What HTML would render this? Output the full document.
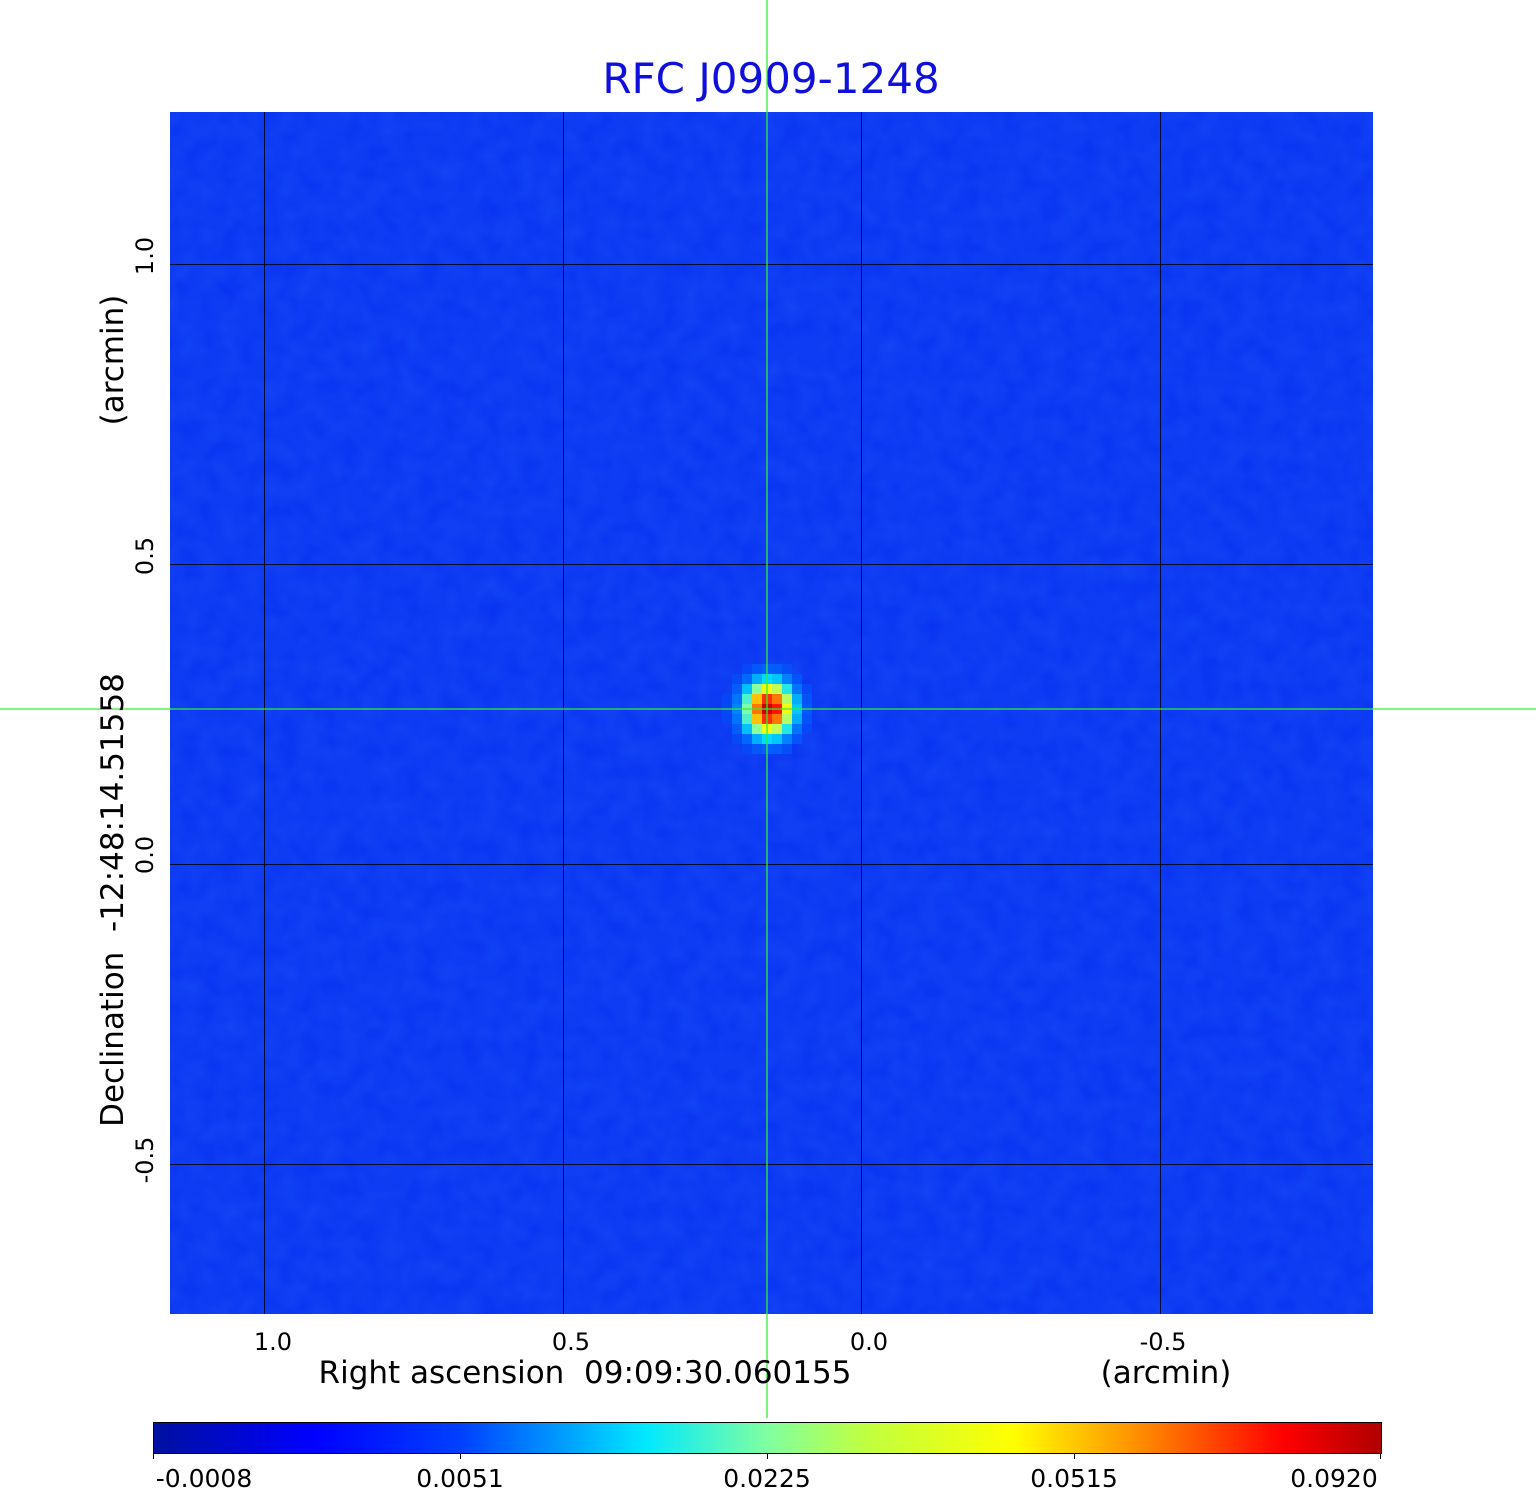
<!DOCTYPE html>
<html><head><meta charset="utf-8"><style>
html,body{margin:0;padding:0;background:#fff;width:1536px;height:1511px;overflow:hidden;font-family:"DejaVu Sans","Liberation Sans",sans-serif}
</style></head><body>
<svg id="s" width="1536" height="1511" xmlns="http://www.w3.org/2000/svg" font-family="DejaVu Sans, Liberation Sans, sans-serif">
<defs>
<linearGradient id="jet" x1="0" x2="1" y1="0" y2="0">
<stop offset="0" stop-color="#0010a0"/>
<stop offset="0.13" stop-color="#0000ff"/>
<stop offset="0.25" stop-color="#0040ff"/>
<stop offset="0.4" stop-color="#00e8ff"/>
<stop offset="0.5" stop-color="#80ffa0"/>
<stop offset="0.58" stop-color="#c0ff40"/>
<stop offset="0.7" stop-color="#ffff00"/>
<stop offset="0.8" stop-color="#ff9000"/>
<stop offset="0.92" stop-color="#ff0000"/>
<stop offset="1" stop-color="#b00000"/>
</linearGradient>
<filter id="n" x="0" y="0" width="100%" height="100%">
<feTurbulence type="fractalNoise" baseFrequency="0.05" numOctaves="2" seed="3"/>
<feColorMatrix type="matrix" values="0 0 0 0 0.05  0 0 0 0 0.3  0 0 0 0 1  0 0 0 0.5 -0.05"/>
</filter>
</defs>
<text x="771" y="93" font-size="42" fill="#1010dd" text-anchor="middle">RFC J0909-1248</text>
<rect x="170" y="112" width="1203" height="1202" fill="#0a34f2"/>
<rect x="170" y="112" width="1203" height="1202" filter="url(#n)" opacity="0.4"/>
<g id="blob"></g>
<g stroke="#000" stroke-width="1" opacity="0.8">
<line x1="264.5" y1="112" x2="264.5" y2="1314"/><line x1="563.5" y1="112" x2="563.5" y2="1314"/>
<line x1="861.5" y1="112" x2="861.5" y2="1314"/><line x1="1160.5" y1="112" x2="1160.5" y2="1314"/>
<line x1="170" y1="264.5" x2="1373" y2="264.5"/><line x1="170" y1="564.5" x2="1373" y2="564.5"/>
<line x1="170" y1="864.5" x2="1373" y2="864.5"/><line x1="170" y1="1164.5" x2="1373" y2="1164.5"/>
</g>
<g stroke="#33ee33" stroke-width="1.3">
<line x1="767" y1="0" x2="767" y2="1418"/><line x1="0" y1="709" x2="1536" y2="709"/>
</g>
<g font-size="24" fill="#000" text-anchor="middle">
<text x="273" y="1350">1.0</text><text x="571" y="1350">0.5</text>
<text x="869" y="1350">0.0</text><text x="1163" y="1350">-0.5</text>
<text x="585" y="1383" font-size="31">Right ascension &#160;09:09:30.060155</text>
<text x="1166" y="1383" font-size="31">(arcmin)</text>
<text transform="translate(153,256) rotate(-90)">1.0</text>
<text transform="translate(153,556) rotate(-90)">0.5</text>
<text transform="translate(153,855) rotate(-90)">0.0</text>
<text transform="translate(153,1160) rotate(-90)">-0.5</text>
<text transform="translate(123,360) rotate(-90)" font-size="31">(arcmin)</text>
<text transform="translate(123,900) rotate(-90)" font-size="31">Declination &#160;-12:48:14.51558</text>
</g>
<rect x="153.5" y="1422.5" width="1228" height="31" fill="url(#jet)" stroke="#000"/>
<g stroke="#000"><line x1="460.5" y1="1453" x2="460.5" y2="1459"/><line x1="767.5" y1="1453" x2="767.5" y2="1459"/><line x1="1074.5" y1="1453" x2="1074.5" y2="1459"/><line x1="153.5" y1="1453" x2="153.5" y2="1459"/><line x1="1380.5" y1="1453" x2="1380.5" y2="1459"/></g>
<g font-size="25" fill="#000" text-anchor="middle">
<text x="204" y="1487">-0.0008</text><text x="460" y="1487">0.0051</text>
<text x="767" y="1487">0.0225</text><text x="1074" y="1487">0.0515</text>
<text x="1334" y="1487">0.0920</text>
</g>
</svg>
<script>
(function(){
var g=document.getElementById('blob'),ns='http://www.w3.org/2000/svg';
var stops=[[0,[10,52,242]],[0.15,[0,110,255]],[0.3,[0,220,255]],[0.45,[130,255,170]],[0.6,[255,255,0]],[0.75,[255,150,0]],[0.9,[255,20,0]],[1,[200,0,0]]];
function col(v){for(var i=1;i<stops.length;i++){if(v<=stops[i][0]){var a=stops[i-1],b=stops[i],t=(v-a[0])/(b[0]-a[0]);return 'rgb('+[0,1,2].map(function(k){return Math.round(a[1][k]+(b[1][k]-a[1][k])*t)}).join(',')+')';}}return 'rgb(200,0,0)';}
for(var i=-6;i<=6;i++)for(var j=-6;j<=6;j++){
var cx=767+i*10,cy=709+j*10;var dx=i-0.2,dy=j;
var v=Math.exp(-(dx*dx/6+dy*dy/7.5));
if(v<0.04)continue;
var r=document.createElementNS(ns,'rect');r.setAttribute('x',cx-5);r.setAttribute('y',cy-5);r.setAttribute('width',10);r.setAttribute('height',10);r.setAttribute('fill',col(v));g.appendChild(r);}
})();
</script>
</body></html>
